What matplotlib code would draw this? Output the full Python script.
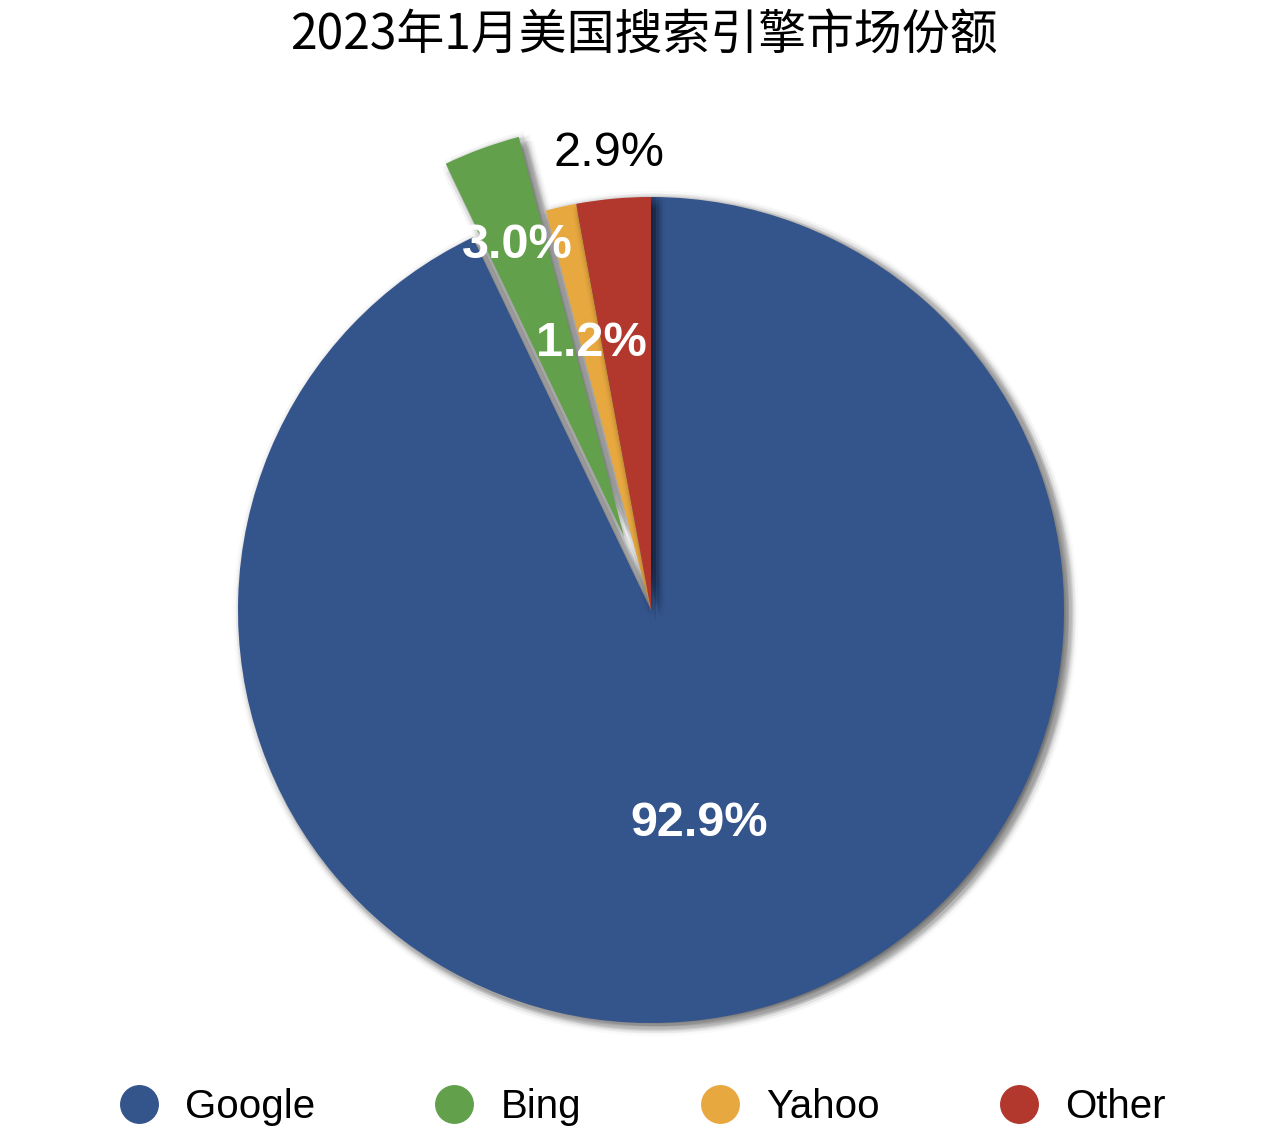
import matplotlib.pyplot as plt
import matplotlib.patheffects as pe
from matplotlib.lines import Line2D
import numpy as np

plt.rcParams['font.family'] = ['Liberation Sans', 'Noto Sans CJK SC', 'DejaVu Sans']

# data
engines = ['Google', 'Bing', 'Yahoo', 'Other']
shares = [92.9, 3.0, 1.2, 2.9]
colors = ['#34548c', '#62a04c', '#e8a840', '#b2372c']
explode = [0, 0.19, 0, 0]
label_dist = [0.53, 0.75, 0.66, 1.11]
label_color = ['white', 'white', 'white', 'black']
label_weight = ['bold', 'bold', 'bold', 'normal']

fig = plt.figure(figsize=(12.88, 11.48), dpi=100)
# axes 1000x1000 px centred on the pie
ax = fig.add_axes([(651 - 500) / 1288, (1148 - 610 - 500) / 1148, 1000 / 1288, 1000 / 1148])

wedges, _ = ax.pie(shares, colors=colors, explode=explode, startangle=90,
                   counterclock=False, radius=1.0)

# soft blurred shadow, slightly to the lower right
shadow = []
for r, a in [(7, 0.02), (5, 0.035), (3, 0.05)]:
    for ang in range(0, 360, 45):
        ox = 3.5 + r * np.cos(np.deg2rad(ang))
        oy = -2.5 + r * np.sin(np.deg2rad(ang))
        shadow.append(pe.SimplePatchShadow(offset=(ox, oy), shadow_rgbFace='black', alpha=a))
shadow.append(pe.Normal())
for w in wedges:
    w.set_path_effects(shadow)

for w, v, d, c, fw in zip(wedges, shares, label_dist, label_color, label_weight):
    mid = np.deg2rad((w.theta1 + w.theta2) / 2)
    cx, cy = w.center
    ax.text(cx + d * np.cos(mid), cy + d * np.sin(mid), f'{v:.1f}%',
            ha='center', va='center', fontsize=35, color=c, fontweight=fw)

lim = 500 / 413
ax.set_xlim(-lim, lim)
ax.set_ylim(-lim, lim)
ax.set_aspect('equal')
ax.axis('off')

fig.text(0.5, 1 - 36 / 1148, '2023年1月美国搜索引擎市场份额', ha='center', va='center',
         fontsize=34.5, family=['Noto Sans CJK SC', 'DejaVu Sans'])

handles = [Line2D([], [], marker='o', linestyle='', markersize=27,
                  markerfacecolor=c, markeredgecolor=c) for c in colors]
fig.legend(handles, engines, loc='center', bbox_to_anchor=(642 / 1288, 1 - 1107 / 1148),
           ncol=4, frameon=False, fontsize=29, columnspacing=2.95,
           handlelength=1.0, handletextpad=0.65)

fig.savefig('out.png', dpi=100, facecolor='white')
